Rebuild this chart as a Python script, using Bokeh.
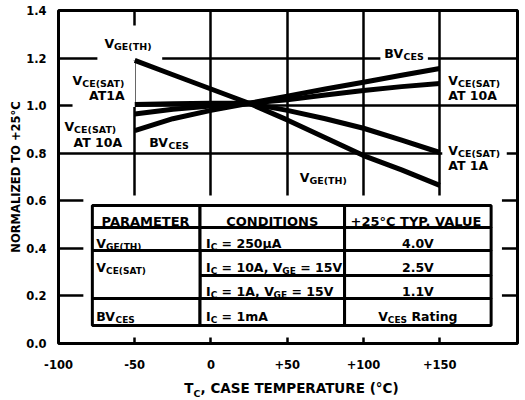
from bokeh.plotting import figure
from bokeh.models import Label, FixedTicker, Range1d, Div
from bokeh.layouts import column
from bokeh.embed import file_html
from bokeh.resources import INLINE

# ---------------- data ----------------
temps = [-50, -25, 0, 25, 50, 75, 100, 125, 150]
vge_th = [1.19, 1.13, 1.07, 1.01, 0.94, 0.865, 0.79, 0.73, 0.665]
vce_sat_1a = [1.005, 1.008, 1.01, 1.01, 0.98, 0.945, 0.905, 0.855, 0.803]
vce_sat_10a = [0.965, 0.985, 0.998, 1.01, 1.025, 1.045, 1.064, 1.08, 1.093]
bv_ces = [0.895, 0.945, 0.98, 1.01, 1.04, 1.07, 1.098, 1.128, 1.156]

x_ticks = [-100, -50, 0, 50, 100, 150]
x_tick_labels = ["-100", "-50", "0", "+50", "+100", "+150"]
y_ticks = [0.0, 0.2, 0.4, 0.6, 0.8, 1.0, 1.2, 1.4]
y_tick_labels = ["0.0", "0.2", "0.4", "0.6", "0.8", "1.0", "1.2", "1.4"]

table_header = ["PARAMETER", "CONDITIONS", "+25°C TYP. VALUE"]
param_col = [[("V", 0), ("GE(TH)", 1)], [("V", 0), ("CE(SAT)", 1)], [], [("BV", 0), ("CES", 1)]]
cond_col = [
    [("I", 0), ("C", 1), (" = 250µA", 0)],
    [("I", 0), ("C", 1), (" = 10A, V", 0), ("GE", 1), (" = 15V", 0)],
    [("I", 0), ("C", 1), (" = 1A, V", 0), ("GE", 1), (" = 15V", 0)],
    [("I", 0), ("C", 1), (" = 1mA", 0)],
]
value_col = [[("4.0V", 0)], [("2.5V", 0)], [("1.1V", 0)], [("V", 0), ("CES", 1), (" Rating", 0)]]

FONT = "DejaVu Sans"

# DejaVu Sans Bold advance widths (em)
W = {" ": .348, ".": .380, ",": .380, "(": .457, ")": .457, "+": .838, "=": .838, "-": .415,
     "°": .500, "µ": .710, "A": .774, "B": .762, "C": .734, "D": .830, "E": .683, "F": .683,
     "G": .821, "H": .837, "I": .372, "L": .637, "M": .995, "N": .837, "O": .850, "P": .733,
     "R": .770, "S": .720, "T": .682, "U": .812, "V": .774, "Y": .724, "Z": .725,
     "a": .675, "t": .478, "i": .343, "n": .712, "g": .716, "m": 1.042}
for d in "0123456789":
    W[d] = .696


def tw(s, size):
    return sum(W.get(ch, .65) for ch in s) * size


X0, X1, Y0, Y1 = -100, 201, 0, 1.4
FW, FH = 459, 333          # frame size in px
XS = (X1 - X0) / FW        # data units per px
YS = (Y1 - Y0) / FH

p = figure(width=521, height=375, output_backend="svg", toolbar_location=None, tools="",
           x_range=Range1d(X0, X1), y_range=Range1d(Y0, Y1),
           min_border_left=58, min_border_right=4, min_border_top=10, min_border_bottom=32,
           background_fill_color="white", border_fill_color="white")

p.outline_line_color = "black"
p.outline_line_width = 3

for ax, ticks, labels in ((p.xaxis[0], x_ticks, x_tick_labels), (p.yaxis[0], y_ticks, y_tick_labels)):
    ax.ticker = FixedTicker(ticks=ticks)
    ax.major_label_overrides = {t: l for t, l in zip(ticks, labels)}
    ax.axis_line_color = None
    ax.major_tick_line_color = None
    ax.minor_tick_line_color = None
    ax.major_label_text_font = FONT
    ax.major_label_text_font_style = "bold"
    ax.major_label_text_font_size = "11.5px"
    ax.major_label_text_color = "black"

p.xaxis.major_label_standoff = 10
p.yaxis.major_label_standoff = 6
p.yaxis.axis_label = "NORMALIZED TO +25°C"
p.yaxis.axis_label_text_font = FONT
p.yaxis.axis_label_text_font_style = "bold"
p.yaxis.axis_label_text_font_size = "11.5px"
p.yaxis.axis_label_text_color = "black"
p.yaxis.axis_label_standoff = 0

for g in (p.xgrid[0], p.ygrid[0]):
    g.grid_line_color = "black"
    g.grid_line_width = 2.5

# ---- text helper (rich text with subscripts) ----
labels_to_add = []
mask_rects = {"x": [], "y": [], "w": [], "h": []}


def rich(x, y, segs, size, align="left", bg=False, pad=0, sub_ratio=0.76, y_off=0.0, x_pad=0.0):
    sub_size = size * sub_ratio
    widths = [tw(t, sub_size if s else size) for t, s in segs]
    total = sum(widths)
    start = {"left": 0.0, "center": -total / 2, "right": -total}[align] + x_pad
    off = start
    for (t, s), w in zip(segs, widths):
        fs = sub_size if s else size
        lead = len(t) - len(t.lstrip(" "))
        txt = t.lstrip(" ")
        labels_to_add.append(dict(x=x, y=y, x_offset=off + tw(" " * lead, fs),
                                  y_offset=y_off - (size * 0.26 if s else 0), text=txt,
                                  text_font_size=f"{fs:.1f}px"))
        off += w
    if bg:
        has_sub = any(s for _, s in segs)
        lo = -(size * 0.26 + sub_size * 0.05 if has_sub else size * 0.02) - pad
        hi = size * 0.74 + pad
        l, r = start - pad, start + total + pad
        mask_rects["x"].append(x + (l + r) / 2 * XS)
        mask_rects["y"].append(y + (y_off + (lo + hi) / 2) * YS)
        mask_rects["w"].append(r - l)
        mask_rects["h"].append(hi - lo)


LS = 12.5
rich(-69.9, 1.261, [("V", 0), ("GE(TH)", 1)], LS, bg=True, pad=2)
rich(-90.8, 1.105, [("V", 0), ("CE(SAT)", 1)], LS, bg=True, pad=2)
rich(-68.0, 1.042, [("AT1A", 0)], LS, align="center", bg=True, pad=2)
rich(-96.1, 0.912, [("V", 0), ("CE(SAT)", 1)], LS, bg=True, pad=2)
rich(-73.9, 0.845, [("AT 10A", 0)], LS, align="center", bg=True, pad=2)
rich(-40.5, 0.845, [("BV", 0), ("CES", 1)], LS, bg=True, pad=2)
rich(113.7, 1.219, [("BV", 0), ("CES", 1)], LS, bg=True, pad=4)
rich(155.6, 1.105, [("V", 0), ("CE(SAT)", 1)], LS, bg=True, pad=2)
rich(155.6, 1.042, [("AT 10A", 0)], LS, bg=True, pad=2)
rich(155.6, 0.811, [("V", 0), ("CE(SAT)", 1)], LS, bg=True, pad=6)
rich(155.6, 0.748, [("AT 1A", 0)], LS, bg=True, pad=2)
rich(58.2, 0.698, [("V", 0), ("GE(TH)", 1)], LS, bg=True, pad=2)

# white masks (label areas / table margin)
p.quad(left=[-74.5, -90.8], right=[-32.0, -49.7], top=[1.337, 1.19], bottom=[1.19, 0.994],
       fill_color="white", line_color=None)
p.rect(x=mask_rects["x"], y=mask_rects["y"], width=mask_rects["w"], height=mask_rects["h"],
       width_units="screen", height_units="screen", fill_color="white", line_color=None)
p.quad(left=[-83.7], right=[190.8], top=[0.622], bottom=[0.025], fill_color="white", line_color=None)

# curves
for series in (vge_th, vce_sat_1a, vce_sat_10a, bv_ces):
    p.line(temps, series, line_width=5, line_color="black", line_cap="butt", line_join="round")

# table
col_edges = [-77.8, -7.2, 87.6, 183.7]
row_edges = [0.58, 0.488, 0.391, 0.286, 0.189, 0.076]
cl, cr, ct, cb = [], [], [], []
for r in range(5):
    for c in range(3):
        if c == 0 and r in (2, 3):
            continue
        cl.append(col_edges[c]); cr.append(col_edges[c + 1])
        ct.append(row_edges[r]); cb.append(row_edges[r + 1])
cl.append(col_edges[0]); cr.append(col_edges[1]); ct.append(row_edges[2]); cb.append(row_edges[4])
p.quad(left=cl, right=cr, top=ct, bottom=cb, fill_color="white", line_color="black", line_width=3)

TS = 12.5
for c, h in enumerate(table_header):
    yc = (row_edges[0] + row_edges[1]) / 2
    rich((col_edges[c] + col_edges[c + 1]) / 2, yc, [(h, 0)], 13, align="center", y_off=-4.7)
for i in range(4):
    yc = (row_edges[i + 1] + row_edges[i + 2]) / 2
    if param_col[i]:
        rich(col_edges[0], yc, param_col[i], TS, y_off=-4.5, sub_ratio=0.72, x_pad=4)
    rich(col_edges[1], yc, cond_col[i], TS, y_off=-4.5, sub_ratio=0.72, x_pad=6)
    rich((col_edges[2] + col_edges[3]) / 2, yc, value_col[i], TS, align="center", y_off=-4.5,
         sub_ratio=0.72)

for spec in labels_to_add:
    p.add_layout(Label(text_font=FONT, text_font_style="bold", text_baseline="alphabetic",
                       text_align="left", text_color="black", **spec))

# x axis title (with subscript) as HTML below the plot
xtitle = Div(text='T<sub style="font-size:9.5px">C</sub>, CASE TEMPERATURE (°C)',
             width=521, height=23,
             styles={"font-family": FONT, "font-weight": "bold", "font-size": "13.5px",
                     "text-align": "center", "padding-left": "52px", "color": "black",
                     "line-height": "16px"})

layout = column(p, xtitle, spacing=0)
open("out.html", "w").write(file_html(layout, INLINE))
